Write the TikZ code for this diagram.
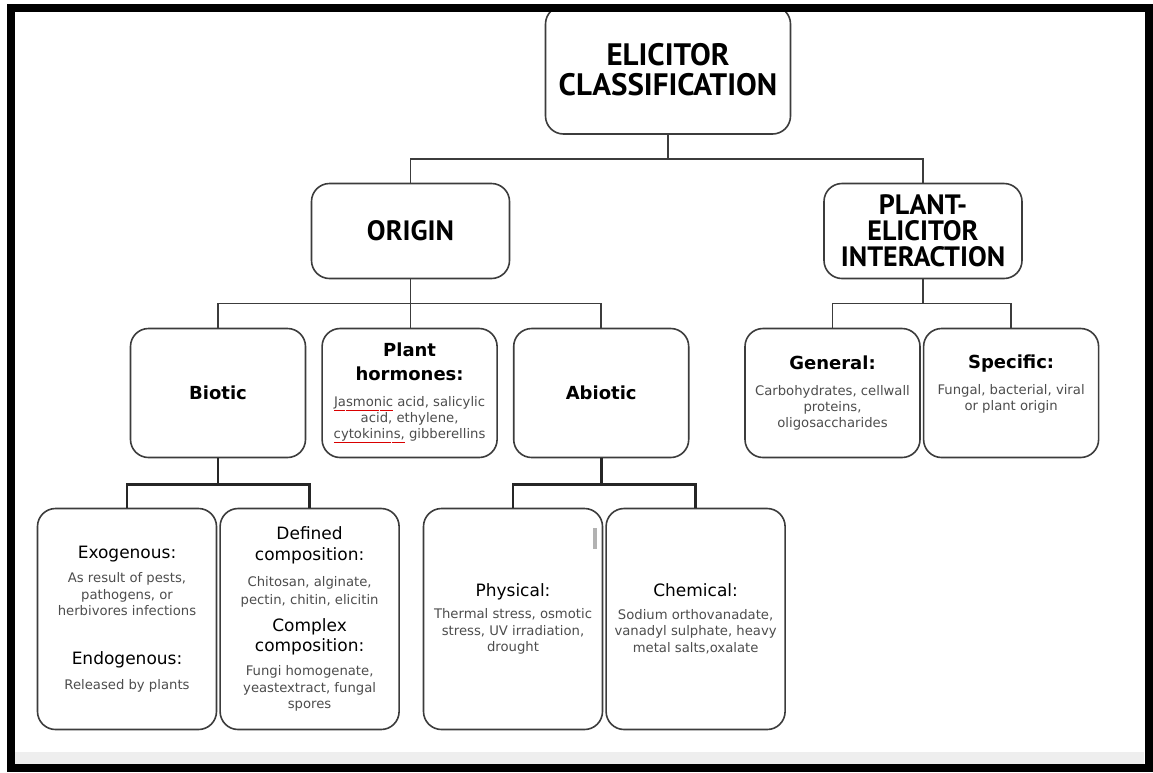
\documentclass[tikz,border=0pt]{standalone}
\usepackage{fontspec}
\setmainfont{DejaVu Sans}
\newfontfamily\headfont{PT Sans}
\usetikzlibrary{positioning}

\definecolor{edge}{HTML}{3C3C3C}
\definecolor{txtgray}{HTML}{4D4D4D}
\definecolor{band}{HTML}{EEEEEE}

% text levels inside the boxes
\newcommand{\cat}[1]{{\fontsize{18}{22}\selectfont\bfseries #1}}
\newcommand{\subhd}[1]{{\fontsize{17}{20}\selectfont #1}}
\newcommand{\desc}[1]{{\fontsize{13.2}{16}\selectfont\color{txtgray}#1}}
\newsavebox{\typobox}
\newcommand{\typo}[1]{\sbox{\typobox}{#1}\rlap{\color{red!85!black}%
  \hbox to \wd\typobox{\xleaders\hbox{\rule[-4.2pt]{1.1pt}{0.7pt}\rule[-3.5pt]{1.1pt}{0.7pt}}\hfill}}%
  \usebox{\typobox}}

\begin{document}
\begin{tikzpicture}[x=1pt, y=-1pt,
  every node/.style={align=center, inner sep=0pt},
  box/.style={rectangle, rounded corners=18pt, draw=edge, line width=1.6pt, fill=white},
  branch/.style={box, font=\headfont\bfseries\fontsize{28}{26}\selectfont,
                 minimum width=198pt, minimum height=95pt},
  mid/.style={box, font=\fontsize{13.2}{16}\selectfont,
              minimum width=175pt, minimum height=129pt},
  leaf/.style={box, font=\fontsize{13.2}{16.5}\selectfont,
               minimum width=179pt, minimum height=221pt},
  link/.style={draw=edge, line width=1.5pt},
  bracket/.style={draw=black!85, line width=2.6pt}
]
  \useasboundingbox (0,0) rectangle (1153,772);
  \fill[white] (0,0) rectangle (1153,772);
  \fill[band] (15,752) rectangle (1144,764);

  % top levels
  \node[box, font=\headfont\bfseries\fontsize{31}{30}\selectfont,
        minimum width=245pt, minimum height=128pt] (root) at (668,70)
        {ELICITOR\\CLASSIFICATION};
  \node[branch] (origin) at (410.5,231) {ORIGIN};
  \node[branch] (plant) at (923,231) {PLANT-\\ELICITOR\\INTERACTION};

  % second level
  \node[mid] (biotic) at (218,393) {\cat{Biotic}};
  \node[mid, right=15pt of biotic] (horm)
        {\cat{Plant}\\[8pt]\cat{hormones:}\\[10pt]
         \desc{\typo{Jasmonic} acid, salicylic}\\\desc{acid, ethylene,}\\
         \desc{\typo{cytokinins,} gibberellins}};
  \node[mid, right=15pt of horm] (abiotic) {\cat{Abiotic}};
  \node[mid] (general) at (832.5,393)
        {\cat{General:}\\[9.5pt]\desc{Carbohydrates, cellwall}\\
         \desc{proteins,}\\\desc{oligosaccharides}};
  \node[mid, right=2pt of general] (specific)
        {\cat{Specific:}\\[10pt]\desc{Fungal, bacterial, viral}\\
         \desc{or plant origin}\\\desc{\strut}};

  % third level
  \node[leaf] (exo) at (127,619)
        {\subhd{Exogenous:}\\[8pt]\desc{As result of pests,}\\
         \desc{pathogens, or}\\\desc{herbivores infections}\\[32pt]
         \subhd{Endogenous:}\\[9pt]\desc{Released by plants}};
  \node[leaf, right=2pt of exo] (def)
        {\subhd{Defined}\\[4.5pt]\subhd{composition:}\\[9.5pt]
         \desc{Chitosan, alginate,}\\[1.5pt]\desc{pectin, chitin, elicitin}\\[10.5pt]
         \subhd{Complex}\\[3.5pt]\subhd{composition:}\\[7.5pt]
         \desc{Fungi homogenate,}\\\desc{yeastextract, fungal}\\\desc{spores}};
  \node[leaf] (phys) at (513,619)
        {\subhd{Physical:}\\[6pt]\desc{Thermal stress, osmotic}\\
         \desc{stress, UV irradiation,}\\\desc{drought}};
  \node[leaf, right=2pt of phys] (chem)
        {\subhd{Chemical:}\\[6pt]\desc{Sodium orthovanadate,}\\
         \desc{vanadyl sulphate, heavy}\\\desc{metal salts,oxalate}};
  \fill[black!30] (593,528) rectangle (597,549);

  % connectors
  \draw[link] (root.south) -- ++(0,24) coordinate (rj) -| (origin.north);
  \draw[link] (rj) -| (plant.north);
  \draw[link] (origin.south) -- ++(0,24) coordinate (oj) -| (biotic.north);
  \draw[link] (oj) -| (abiotic.north);
  \draw[link] (oj) -- (oj |- horm.north);
  \draw[link] (plant.south) -- ++(0,24) coordinate (pj) -| (general.north);
  \draw[link] (pj) -| (specific.north);
  \draw[bracket] (biotic.south) -- ++(0,26) coordinate (bj) -| (exo.north);
  \draw[bracket] (bj) -| (def.north);
  \draw[bracket] (abiotic.south) -- ++(0,26) coordinate (aj) -| (phys.north);
  \draw[bracket] (aj) -| (chem.north);

  % frame
  \draw[line width=8pt] (11,8) rectangle (1148.5,768);
\end{tikzpicture}
\end{document}
